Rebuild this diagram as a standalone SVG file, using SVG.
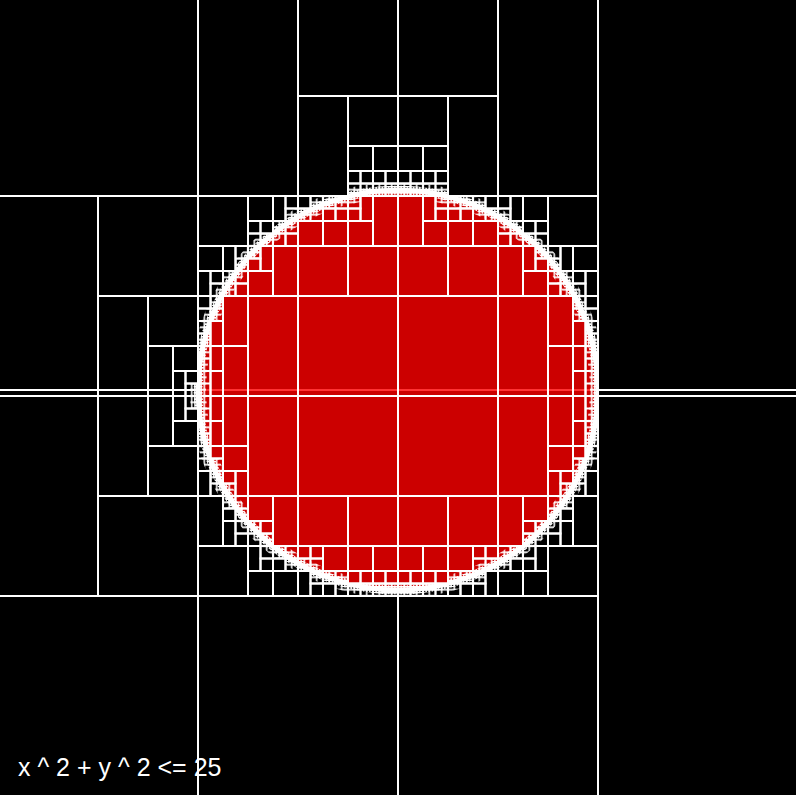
<svg xmlns="http://www.w3.org/2000/svg" width="796" height="795" viewBox="0 0 796 795">
<style>
.lbl{font-family:"Liberation Sans",Arial,sans-serif;font-size:25px;fill:#fff}
</style>
<defs>
<path id="bp" d="M398 583.5h12.5v12.5h-12.5zM410.5 583.5h12.5v12.5h-12.5zM423 583.5h12.5v12.5h-12.5zM435.5 583.5h12.5v12.5h-12.5zM448 571h12.5v12.5h-12.5zM448 583.5h12.5v12.5h-12.5zM460.5 571h12.5v12.5h-12.5zM473 558.5h12.5v12.5h-12.5zM473 571h12.5v12.5h-12.5zM485.5 558.5h12.5v12.5h-12.5zM498 546h12.5v12.5h-12.5zM498 558.5h12.5v12.5h-12.5zM510.5 546h12.5v12.5h-12.5zM523 533.5h12.5v12.5h-12.5zM523 546h12.5v12.5h-12.5zM535.5 521h12.5v12.5h-12.5zM535.5 533.5h12.5v12.5h-12.5zM548 496h12.5v12.5h-12.5zM548 508.5h12.5v12.5h-12.5zM548 521h12.5v12.5h-12.5zM560.5 483.5h12.5v12.5h-12.5zM560.5 496h12.5v12.5h-12.5zM573 458.5h12.5v12.5h-12.5zM573 471h12.5v12.5h-12.5zM573 483.5h12.5v12.5h-12.5zM585.5 396h12.5v12.5h-12.5zM585.5 408.5h12.5v12.5h-12.5zM585.5 421h12.5v12.5h-12.5zM585.5 433.5h12.5v12.5h-12.5zM585.5 446h12.5v12.5h-12.5zM585.5 458.5h12.5v12.5h-12.5zM398 183.5h12.5v12.5h-12.5zM410.5 183.5h12.5v12.5h-12.5zM423 183.5h12.5v12.5h-12.5zM435.5 183.5h12.5v12.5h-12.5zM435.5 196h12.5v12.5h-12.5zM448 196h12.5v12.5h-12.5zM460.5 196h12.5v12.5h-12.5zM473 196h12.5v12.5h-12.5zM473 208.5h12.5v12.5h-12.5zM485.5 208.5h12.5v12.5h-12.5zM498 208.5h12.5v12.5h-12.5zM498 221h12.5v12.5h-12.5zM510.5 221h12.5v12.5h-12.5zM510.5 233.5h12.5v12.5h-12.5zM523 233.5h12.5v12.5h-12.5zM535.5 233.5h12.5v12.5h-12.5zM535.5 246h12.5v12.5h-12.5zM548 246h12.5v12.5h-12.5zM548 258.5h12.5v12.5h-12.5zM548 271h12.5v12.5h-12.5zM560.5 271h12.5v12.5h-12.5zM560.5 283.5h12.5v12.5h-12.5zM573 283.5h12.5v12.5h-12.5zM573 296h12.5v12.5h-12.5zM573 308.5h12.5v12.5h-12.5zM585.5 308.5h12.5v12.5h-12.5zM585.5 321h12.5v12.5h-12.5zM585.5 333.5h12.5v12.5h-12.5zM585.5 346h12.5v12.5h-12.5zM585.5 358.5h12.5v12.5h-12.5zM585.5 371h12.5v12.5h-12.5zM585.5 383.5h12.5v12.5h-12.5zM385.5 583.5h12.5v12.5h-12.5zM373 583.5h12.5v12.5h-12.5zM360.5 583.5h12.5v12.5h-12.5zM348 583.5h12.5v12.5h-12.5zM335.5 571h12.5v12.5h-12.5zM335.5 583.5h12.5v12.5h-12.5zM323 571h12.5v12.5h-12.5zM310.5 558.5h12.5v12.5h-12.5zM310.5 571h12.5v12.5h-12.5zM298 558.5h12.5v12.5h-12.5zM285.5 546h12.5v12.5h-12.5zM285.5 558.5h12.5v12.5h-12.5zM273 546h12.5v12.5h-12.5zM260.5 533.5h12.5v12.5h-12.5zM260.5 546h12.5v12.5h-12.5zM248 521h12.5v12.5h-12.5zM248 533.5h12.5v12.5h-12.5zM235.5 496h12.5v12.5h-12.5zM235.5 508.5h12.5v12.5h-12.5zM235.5 521h12.5v12.5h-12.5zM223 483.5h12.5v12.5h-12.5zM223 496h12.5v12.5h-12.5zM210.5 458.5h12.5v12.5h-12.5zM210.5 471h12.5v12.5h-12.5zM210.5 483.5h12.5v12.5h-12.5zM198 396h12.5v12.5h-12.5zM198 408.5h12.5v12.5h-12.5zM198 421h12.5v12.5h-12.5zM198 433.5h12.5v12.5h-12.5zM198 446h12.5v12.5h-12.5zM198 458.5h12.5v12.5h-12.5zM385.5 183.5h12.5v12.5h-12.5zM373 183.5h12.5v12.5h-12.5zM360.5 183.5h12.5v12.5h-12.5zM348 183.5h12.5v12.5h-12.5zM348 196h12.5v12.5h-12.5zM335.5 196h12.5v12.5h-12.5zM323 196h12.5v12.5h-12.5zM310.5 196h12.5v12.5h-12.5zM310.5 208.5h12.5v12.5h-12.5zM298 208.5h12.5v12.5h-12.5zM285.5 208.5h12.5v12.5h-12.5zM285.5 221h12.5v12.5h-12.5zM273 221h12.5v12.5h-12.5zM273 233.5h12.5v12.5h-12.5zM260.5 233.5h12.5v12.5h-12.5zM248 233.5h12.5v12.5h-12.5zM248 246h12.5v12.5h-12.5zM235.5 246h12.5v12.5h-12.5zM235.5 258.5h12.5v12.5h-12.5zM235.5 271h12.5v12.5h-12.5zM223 271h12.5v12.5h-12.5zM223 283.5h12.5v12.5h-12.5zM210.5 283.5h12.5v12.5h-12.5zM210.5 296h12.5v12.5h-12.5zM210.5 308.5h12.5v12.5h-12.5zM198 308.5h12.5v12.5h-12.5zM198 321h12.5v12.5h-12.5zM198 333.5h12.5v12.5h-12.5zM198 346h12.5v12.5h-12.5zM198 358.5h12.5v12.5h-12.5zM198 371h12.5v12.5h-12.5zM198 383.5h12.5v12.5h-12.5zM185.5 383.5h12.5v12.5h-12.5zM185.5 396h12.5v12.5h-12.5z"/>
<clipPath id="cb"><use href="#bp"/></clipPath>
<pattern id="p6" patternUnits="userSpaceOnUse" x="394.875" y="392.875" width="6.25" height="6.25"><path d="M3.125 0V6.25M0 3.125H6.25" stroke="#fff" stroke-width="1.6" fill="none"/></pattern>
<pattern id="p3" patternUnits="userSpaceOnUse" x="396.4375" y="394.4375" width="3.125" height="3.125"><path d="M1.5625 0V3.125M0 1.5625H3.125" stroke="#fff" stroke-width="1.4" fill="none"/></pattern>
<mask id="m6" maskUnits="userSpaceOnUse" x="0" y="0" width="796" height="795"><circle cx="398" cy="390" r="200" fill="none" stroke="#fff" stroke-width="16"/></mask>
<mask id="m3" maskUnits="userSpaceOnUse" x="0" y="0" width="796" height="795"><circle cx="398" cy="390" r="200" fill="none" stroke="#fff" stroke-width="9"/></mask>
</defs>
<rect id="background" width="796" height="795" fill="#000"/>
<line id="axis" x1="0" y1="390" x2="796" y2="390" stroke="#fff" stroke-width="2"/>
<circle id="region" cx="398" cy="390" r="200" fill="#f00" fill-opacity="0.8"/>
<g id="boundary-detail" clip-path="url(#cb)">
<rect width="796" height="795" fill="url(#p6)" mask="url(#m6)"/>
<rect width="796" height="795" fill="url(#p3)" mask="url(#m3)"/>
<circle cx="398" cy="390" r="200" fill="none" stroke="#fff" stroke-width="5"/>
</g>
<g id="cells" fill="none" stroke="#fff" stroke-width="2">
<g id="right">
<rect x="598" y="396" width="200" height="400"/>
<rect x="398" y="596" width="200" height="200"/>
<rect x="398" y="396" width="100" height="100"/>
<rect x="398" y="496" width="50" height="50"/>
<rect x="398" y="546" width="25" height="25"/>
<rect x="398" y="571" width="12.5" height="12.5"/>
<rect x="410.5" y="571" width="12.5" height="12.5"/>
<rect x="423" y="546" width="25" height="25"/>
<rect x="423" y="571" width="12.5" height="12.5"/>
<rect x="435.5" y="571" width="12.5" height="12.5"/>
<rect x="448" y="496" width="50" height="50"/>
<rect x="448" y="546" width="25" height="25"/>
<rect x="460.5" y="583.5" width="12.5" height="12.5"/>
<rect x="473" y="546" width="12.5" height="12.5"/>
<rect x="485.5" y="546" width="12.5" height="12.5"/>
<rect x="473" y="583.5" width="12.5" height="12.5"/>
<rect x="485.5" y="571" width="12.5" height="25"/>
<rect x="498" y="396" width="50" height="100"/>
<rect x="548" y="396" width="25" height="50"/>
<rect x="573" y="396" width="12.5" height="25"/>
<rect x="573" y="421" width="12.5" height="25"/>
<rect x="548" y="446" width="25" height="25"/>
<rect x="548" y="471" width="12.5" height="25"/>
<rect x="560.5" y="471" width="12.5" height="12.5"/>
<rect x="573" y="446" width="12.5" height="12.5"/>
<rect x="585.5" y="471" width="12.5" height="25"/>
<rect x="498" y="496" width="25" height="50"/>
<rect x="523" y="496" width="25" height="25"/>
<rect x="523" y="521" width="12.5" height="12.5"/>
<rect x="510.5" y="558.5" width="12.5" height="12.5"/>
<rect x="498" y="571" width="25" height="25"/>
<rect x="523" y="558.5" width="12.5" height="12.5"/>
<rect x="535.5" y="546" width="12.5" height="25"/>
<rect x="523" y="571" width="25" height="25"/>
<rect x="560.5" y="508.5" width="12.5" height="12.5"/>
<rect x="548" y="533.5" width="12.5" height="12.5"/>
<rect x="560.5" y="521" width="12.5" height="25"/>
<rect x="573" y="496" width="25" height="50"/>
<rect x="548" y="546" width="50" height="50"/>
<rect x="598" y="-4" width="200" height="400"/>
<rect x="498" y="-4" width="100" height="200"/>
<rect x="398" y="-4" width="100" height="100"/>
<rect x="448" y="96" width="50" height="100"/>
<rect x="398" y="96" width="50" height="50"/>
<rect x="398" y="146" width="25" height="25"/>
<rect x="398" y="171" width="12.5" height="12.5"/>
<rect x="410.5" y="171" width="12.5" height="12.5"/>
<rect x="423" y="146" width="25" height="25"/>
<rect x="423" y="171" width="12.5" height="12.5"/>
<rect x="435.5" y="171" width="12.5" height="12.5"/>
<rect x="398" y="296" width="100" height="100"/>
<rect x="398" y="246" width="50" height="50"/>
<rect x="398" y="196" width="25" height="50"/>
<rect x="423" y="196" width="12.5" height="25"/>
<rect x="435.5" y="208.5" width="12.5" height="12.5"/>
<rect x="423" y="221" width="25" height="25"/>
<rect x="448" y="208.5" width="12.5" height="12.5"/>
<rect x="460.5" y="208.5" width="12.5" height="12.5"/>
<rect x="448" y="221" width="25" height="25"/>
<rect x="485.5" y="196" width="12.5" height="12.5"/>
<rect x="473" y="221" width="25" height="25"/>
<rect x="448" y="246" width="50" height="50"/>
<rect x="498" y="296" width="50" height="100"/>
<rect x="548" y="296" width="25" height="50"/>
<rect x="585.5" y="296" width="12.5" height="12.5"/>
<rect x="573" y="321" width="12.5" height="25"/>
<rect x="548" y="346" width="25" height="50"/>
<rect x="573" y="346" width="12.5" height="25"/>
<rect x="573" y="371" width="12.5" height="25"/>
<rect x="498" y="196" width="12.5" height="12.5"/>
<rect x="510.5" y="196" width="12.5" height="25"/>
<rect x="498" y="233.5" width="12.5" height="12.5"/>
<rect x="523" y="196" width="25" height="25"/>
<rect x="523" y="221" width="12.5" height="12.5"/>
<rect x="535.5" y="221" width="12.5" height="12.5"/>
<rect x="498" y="246" width="25" height="50"/>
<rect x="523" y="246" width="12.5" height="25"/>
<rect x="535.5" y="258.5" width="12.5" height="12.5"/>
<rect x="523" y="271" width="25" height="25"/>
<rect x="548" y="196" width="50" height="50"/>
<rect x="560.5" y="246" width="12.5" height="25"/>
<rect x="548" y="283.5" width="12.5" height="12.5"/>
<rect x="573" y="246" width="25" height="25"/>
<rect x="573" y="271" width="12.5" height="12.5"/>
<rect x="585.5" y="271" width="12.5" height="25"/>
</g>
<use id="left" href="#right" transform="matrix(-1 0 0 1 796 0)"/>
<g id="left-extra">
<rect x="-2" y="196" width="100" height="200"/>
<rect x="98" y="196" width="100" height="100"/>
<rect x="98" y="296" width="50" height="100"/>
<rect x="148" y="296" width="50" height="50"/>
<rect x="148" y="346" width="25" height="50"/>
<rect x="173" y="346" width="25" height="25"/>
<rect x="173" y="371" width="12.5" height="25"/>
<rect x="185.5" y="371" width="12.5" height="12.5"/>
<rect x="-2" y="396" width="100" height="200"/>
<rect x="98" y="496" width="100" height="100"/>
<rect x="98" y="396" width="50" height="100"/>
<rect x="148" y="446" width="50" height="50"/>
<rect x="148" y="396" width="25" height="50"/>
<rect x="173" y="421" width="25" height="25"/>
<rect x="173" y="396" width="12.5" height="25"/>
<rect x="185.5" y="408.5" width="12.5" height="12.5"/>
</g>
<use id="boundary-cells" href="#bp"/>
</g>
<text id="label" class="lbl" x="18" y="776">x ^ 2 + y ^ 2 &lt;= 25</text>
</svg>
